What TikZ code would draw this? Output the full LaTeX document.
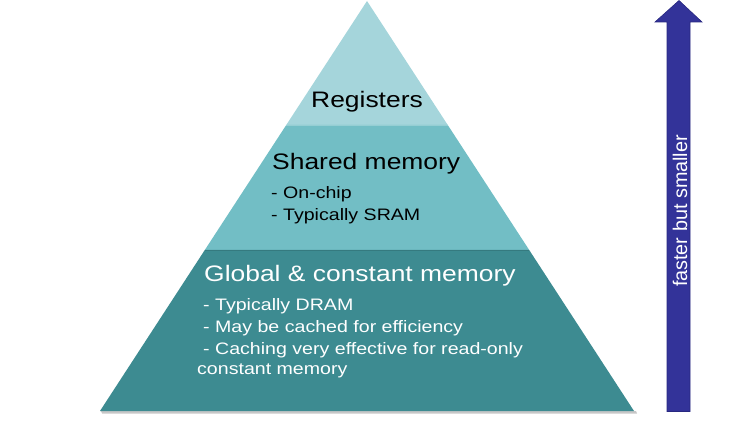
\documentclass[tikz,border=0pt]{standalone}
\usepackage{fontspec}
\setmainfont[FakeStretch=1.18]{Liberation Sans}
\newfontfamily\arrowfont{Liberation Sans}
\definecolor{topband}{RGB}{165,213,219}
\definecolor{midband}{RGB}{114,190,197}
\definecolor{lowband}{RGB}{61,139,145}
\definecolor{arrowblue}{RGB}{51,51,153}
\definecolor{arrowedge}{RGB}{40,40,128}
\begin{document}
\begin{tikzpicture}[x=1pt,y=-1pt,
  bigtext/.style={inner sep=0pt,font=\fontsize{22.4}{26}\selectfont},
  smalltext/.style={inner sep=0pt,font=\fontsize{16.6}{21}\selectfont},
  band/.style={draw=none}]
\useasboundingbox (0,0) rectangle (753,422);
% shadow
\fill[black!22] (101,411) -- (636,411) -- (637,413.5) -- (102,413.5) -- cycle;
% bands
\fill[band,topband] (367,1) -- (447.75,125) -- (286.25,125) -- cycle;
\fill[band,midband] (286.25,125) -- (447.75,125) -- (529.2,250) -- (204.8,250) -- cycle;
\fill[band,lowband] (204.8,250) -- (529.2,250) -- (634,411) -- (100,411) -- cycle;
\draw[white,opacity=0.25,line width=0.8pt] (286.25,125) -- (447.75,125);
\draw[black,opacity=0.12,line width=0.8pt] (204.8,250.5) -- (529.2,250.5);
% arrow
\filldraw[fill=arrowblue,draw=arrowedge,line width=0.6pt]
  (679,0.5) -- (702,22) -- (690,22) -- (690,411.5) -- (667,411.5) -- (667,22) -- (655,22) -- cycle;
\node[inner sep=0pt,rotate=90,anchor=base,text=white,font=\arrowfont\fontsize{19.8}{22}\selectfont]
  (speed) at (687,211) {faster but smaller};
% texts
\node[bigtext,anchor=base] (reg) at (367,108) {Registers};
\node[bigtext,anchor=base west] (shm) at (272,170) {Shared memory};
\node[smalltext,anchor=base west] (shm1) at (271,199) {- On-chip};
\node[smalltext,anchor=base west] (shm2) at (271,221) {- Typically SRAM};
\node[bigtext,anchor=base west,text=white] (glb) at (204,282) {Global \& constant memory};
\node[smalltext,anchor=base west,text=white] (glb1) at (203,311) {- Typically DRAM};
\node[smalltext,anchor=base west,text=white] (glb2) at (203,333) {- May be cached for efficiency};
\node[smalltext,anchor=base west,text=white] (glb3) at (203,354) {- Caching very effective for read-only};
\node[smalltext,anchor=base west,text=white] (glb4) at (197,374) {constant memory};
\end{tikzpicture}
\end{document}
